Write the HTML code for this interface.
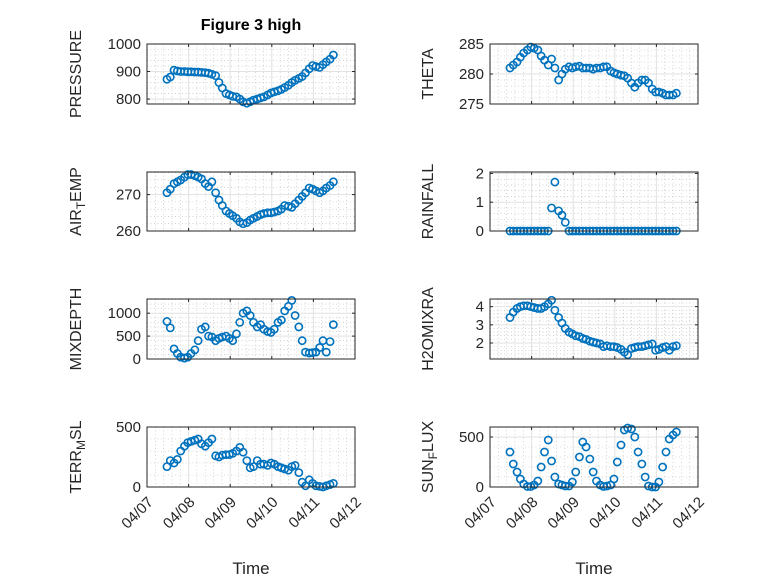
<!DOCTYPE html>
<html><head><meta charset="utf-8"><style>
html,body{margin:0;padding:0;background:#fff;}
svg{display:block;font-family:"Liberation Sans",sans-serif;}
</style></head><body>
<svg id="fig" width="778" height="583" viewBox="0 0 778 583">
<rect width="778" height="583" fill="#fff"/>
<text x="251" y="30" text-anchor="middle" font-size="16" font-weight="bold" fill="#000">Figure 3 high</text>
</svg>
<script>
// time in days after 04/07 00:00, 2-hourly samples
const times = [0.48,0.56,0.65,0.73,0.81,0.90,0.98,1.06,1.15,1.23,1.31,1.40,1.48,1.56,1.65,1.73,1.81,1.90,1.98,2.06,2.15,2.23,2.31,2.40,2.48,2.56,2.65,2.73,2.81,2.90,2.98,3.06,3.15,3.23,3.31,3.40,3.48,3.56,3.65,3.73,3.81,3.90,3.98,4.06,4.15,4.23,4.31,4.40,4.48];
const xTickLabels = ["04/07","04/08","04/09","04/10","04/11","04/12"];
const pressure = [872,880,905,902,900,900,899,899,898,898,897,896,894,890,885,860,840,820,815,810,808,800,790,785,790,796,800,804,808,815,822,826,830,835,842,850,860,868,875,882,895,910,922,918,915,925,935,945,960];
const theta = [281,281.5,282,282.8,283.5,284,284.5,284.3,284,283,282.3,281.5,282.5,281,279,280,280.8,281.2,281,281.2,281.3,281,281,281,280.8,281,281,281.2,281.2,280.5,280.2,280,279.8,279.7,279.3,278.5,277.8,278.5,279,279,278.5,277.5,277,277,276.8,276.5,276.5,276.5,276.8];
const airTemp = [270.5,271.5,273,273.5,274,274.8,275.5,275.5,275.2,274.8,274.3,273,272.2,273.5,270.5,268.5,267,265.5,264.8,264.2,263.5,262.5,262,262.3,263,263.5,264,264.5,264.8,265,265,265.2,265.5,266,267,266.8,266.5,267.5,268.5,269.5,270.5,271.8,271.5,271,270.5,271,271.8,272.5,273.5];
const rainfall = [0,0,0,0,0,0,0,0,0,0,0,0,0.8,1.7,0.7,0.55,0.3,0,0,0,0,0,0,0,0,0,0,0,0,0,0,0,0,0,0,0,0,0,0,0,0,0,0,0,0,0,0,0,0];
const mixDepth = [820,680,220,120,40,20,40,120,200,400,650,700,500,480,400,450,480,500,450,400,550,800,1000,1050,950,800,700,750,650,600,580,650,800,850,1050,1150,1280,950,700,400,150,130,140,150,250,400,150,380,750];
const h2oMix = [3.4,3.7,3.9,4.0,4.05,4.05,4.0,3.95,3.9,3.9,4.0,4.15,4.35,3.8,3.4,3.1,2.8,2.6,2.5,2.4,2.35,2.25,2.2,2.1,2.05,2.0,1.95,1.8,1.85,1.8,1.8,1.75,1.65,1.5,1.35,1.7,1.75,1.8,1.8,1.85,1.9,1.95,1.6,1.65,1.75,1.8,1.6,1.8,1.85];
const terrMsl = [170,220,200,230,300,340,370,380,390,400,360,340,370,400,260,250,265,270,270,280,300,330,290,220,160,170,220,190,190,180,200,190,170,160,150,140,170,180,120,40,10,60,30,10,5,0,10,20,30];
const sunFlux = [350,230,150,80,30,5,5,20,60,200,350,470,260,100,30,20,10,10,50,150,300,450,400,280,150,60,20,5,10,20,80,250,420,570,590,580,500,350,230,100,10,0,0,50,200,350,480,520,550];
const pTicks=[800,900,1000], thTicks=[275,280,285], atTicks=[260,270], rfTicks=[0,1,2], mdTicks=[0,500,1000], h2Ticks=[2,3,4], tmTicks=[0,500], sfTicks=[0,500];

const NS="http://www.w3.org/2000/svg";
const svg=document.getElementById('fig');
function mk(tag,attrs,parent){const e=document.createElementNS(NS,tag);for(const k in attrs)e.setAttribute(k,attrs[k]);(parent||svg).appendChild(e);return e;}

const panels=[
 {id:'pressure',x0:147,x1:355,y0:44,y1:104,ymin:782,ymax:1000,ticks:pTicks,minor:20,data:pressure,label:['PRESSURE'],bottom:false},
 {id:'theta',x0:490,x1:698,y0:44,y1:104,ymin:275,ymax:285,ticks:thTicks,minor:1,data:theta,label:['THETA'],bottom:false},
 {id:'air-temp',x0:147,x1:355,y0:172,y1:231,ymin:260,ymax:276.2,ticks:atTicks,minor:2,data:airTemp,label:['AIR','T','EMP'],bottom:false},
 {id:'rainfall',x0:490,x1:698,y0:172,y1:231,ymin:0,ymax:2.05,ticks:rfTicks,minor:0.2,data:rainfall,label:['RAINFALL'],bottom:false},
 {id:'mixdepth',x0:147,x1:355,y0:299,y1:359,ymin:0,ymax:1310,ticks:mdTicks,minor:100,data:mixDepth,label:['MIXDEPTH'],bottom:false},
 {id:'h2omixra',x0:490,x1:698,y0:299,y1:359,ymin:1.12,ymax:4.42,ticks:h2Ticks,minor:0.2,data:h2oMix,label:['H2OMIXRA'],bottom:false},
 {id:'terr-msl',x0:147,x1:355,y0:427,y1:487,ymin:0,ymax:500,ticks:tmTicks,minor:100,data:terrMsl,label:['TERR','M','SL'],bottom:true},
 {id:'sun-flux',x0:490,x1:698,y0:427,y1:487,ymin:0,ymax:600,ticks:sfTicks,minor:100,data:sunFlux,label:['SUN','F','LUX'],bottom:true}
];

panels.forEach(p=>{
 const g=mk('g',{});
 
 
 const xs=t=>p.x0+(p.x1-p.x0)*t/5;
 const ys=v=>p.y1-(p.y1-p.y0)*(v-p.ymin)/(p.ymax-p.ymin);
 for(let t=0.2;t<5;t+=0.2){ if(Math.abs(t-Math.round(t))<1e-6)continue;
  mk('line',{x1:xs(t),x2:xs(t),y1:p.y0,y2:p.y1,stroke:'#b8b8b8','stroke-width':0.6,'stroke-dasharray':'1 2.5'},g);}
 const start=Math.ceil(p.ymin/p.minor)*p.minor;
 for(let v=start;v<p.ymax;v+=p.minor){ if(p.ticks.some(tk=>Math.abs(tk-v)<1e-6))continue;
  mk('line',{x1:p.x0,x2:p.x1,y1:ys(v),y2:ys(v),stroke:'#b8b8b8','stroke-width':0.6,'stroke-dasharray':'1 2.5'},g);}
 for(let d=1;d<5;d++) mk('line',{x1:xs(d),x2:xs(d),y1:p.y0,y2:p.y1,stroke:'#e2e2e2','stroke-width':1},g);
 p.ticks.forEach(v=>{ mk('line',{x1:p.x0,x2:p.x1,y1:ys(v),y2:ys(v),stroke:'#e2e2e2','stroke-width':1},g);
  mk('line',{x1:p.x0,x2:p.x0+3,y1:ys(v),y2:ys(v),stroke:'#262626','stroke-width':1},g);
  mk('line',{x1:p.x1,x2:p.x1-3,y1:ys(v),y2:ys(v),stroke:'#262626','stroke-width':1},g);
  const tl=mk('text',{x:p.x0-6,y:ys(v)+5,'text-anchor':'end','font-size':'15',fill:'#262626'},g);
  tl.textContent=String(v);
  
  
 });
 for(let d=0;d<=5;d++){
  mk('line',{x1:xs(d),x2:xs(d),y1:p.y1,y2:p.y1-3,stroke:'#262626','stroke-width':1},g);
  mk('line',{x1:xs(d),x2:xs(d),y1:p.y0,y2:p.y0+3,stroke:'#262626','stroke-width':1},g);
  if(p.bottom){
   const xl=mk('text',{x:0,y:0,'text-anchor':'end','font-size':'15',fill:'#262626',transform:`translate(${xs(d)+7},${p.y1+16}) rotate(-45)`},g);
   xl.textContent=xTickLabels[d];
   
   
  }
 }
 p.data.forEach((v,i)=>{
  const c=mk('circle',{cx:xs(times[i]),cy:ys(v),r:3.6,fill:'none',stroke:'#0072BD','stroke-width':1.6},g);
  
  
 });
 mk('rect',{x:p.x0,y:p.y0,width:p.x1-p.x0,height:p.y1-p.y0,fill:'none',stroke:'#262626','stroke-width':1},g);
 const cy=(p.y0+p.y1)/2, lx=p.x0-(p.x0<300?66:57);
 const yl=mk('text',{x:0,y:0,'text-anchor':'middle','font-size':'16',fill:'#262626',transform:`translate(${lx},${cy}) rotate(-90)`},g);
 
 
 if(p.label.length===1){yl.textContent=p.label[0];}
 else{
  const a=mk('tspan',{},yl);a.textContent=p.label[0];
  const b=mk('tspan',{'font-size':'12',dy:'4'},yl);b.textContent=p.label[1];
  const c=mk('tspan',{dy:'-4'},yl);c.textContent=p.label[2];
 }
 if(p.bottom){
  const xt=mk('text',{x:(p.x0+p.x1)/2,y:574,'text-anchor':'middle','font-size':'17',fill:'#262626'},g);
  xt.textContent='Time';
  
  
 }
});
</script>
</body></html>
